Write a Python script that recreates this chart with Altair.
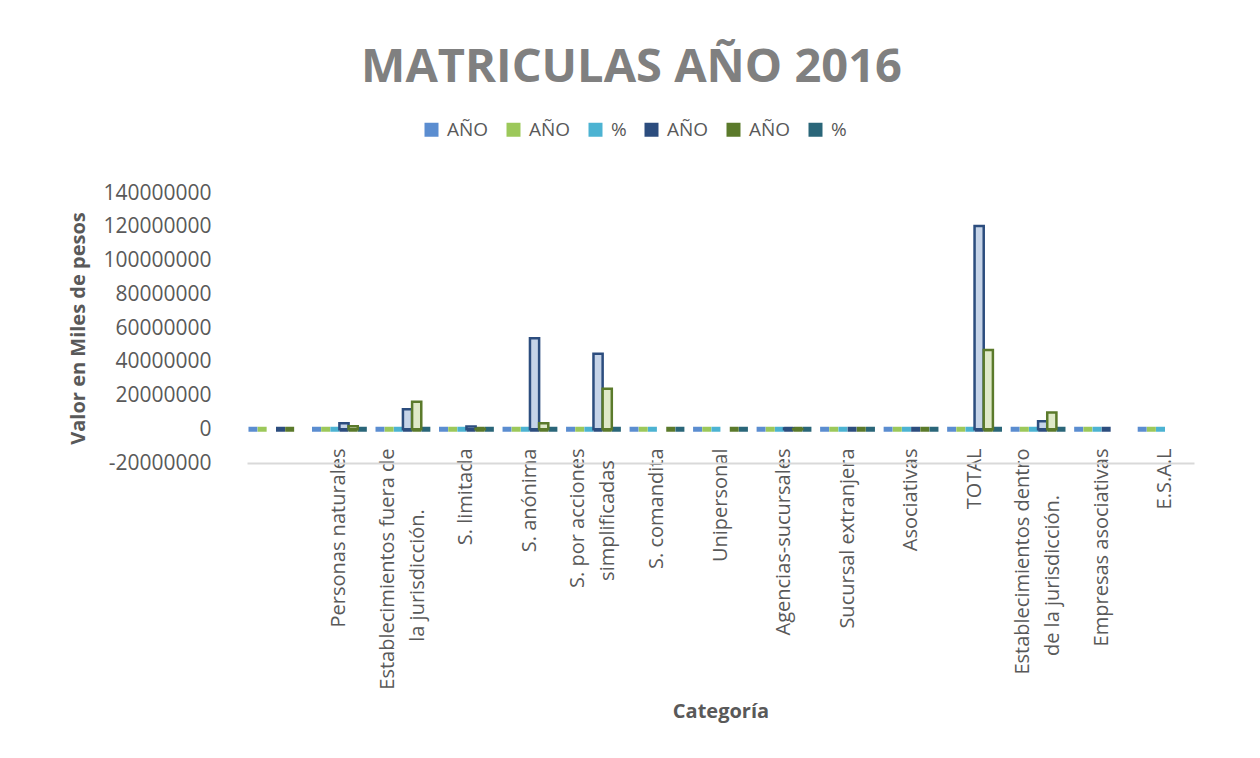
import altair as alt
import pandas as pd

categories = [
    " ",
    "Personas naturales",
    "Establecimientos fuera de\nla jurisdicción.",
    "S. limitada",
    "S. anónima",
    "S. por acciones\nsimplificadas",
    "S. comandita",
    "Unipersonal",
    "Agencias-sucursales",
    "Sucursal extranjera",
    "Asociativas",
    "TOTAL",
    "Establecimientos dentro\nde la jurisdicción.",
    "Empresas asociativas",
    "E.S.A.L",
]

series_keys = ["s1", "s2", "s3", "s4", "s5", "s6"]
series_labels = ["AÑO", "AÑO", "%", "AÑO", "AÑO", "%"]
series_colors = ["#5b8dd0", "#9cc85a", "#4cb3d2", "#2c4d7e", "#5b7a2b", "#2a6679"]
bar_fills = ["#bccde6", "#dbe9c4", "#bde3ee", "#c6d4e8", "#dfe9c8", "#b9d3da"]

s1_values = [0, 0, 0, 0, 0, 0, 0, 0, 0, 0, 0, 0, 0, 0, 0]
s2_values = [0, 0, 0, 0, 0, 0, 0, 0, 0, 0, 0, 0, 0, 0, 0]
s3_values = [None, 0, 0, 0, 0, 0, 0, 0, 0, 0, 0, 0, 0, 0, 0]
s4_values = [0, 3500000, 11800000, 1700000, 54000000, 44700000, None, None,
             500000, 0, 0, 120500000, 4700000, 0, None]
s5_values = [0, 1800000, 16300000, 300000, 3500000, 24000000, 0, 0,
             200000, 0, 0, 47000000, 10000000, None, None]
s6_values = [None, 0, 0, 0, 0, 0, 0, 0, 0, 0, 0, 0, 0, None, None]

y_ticks = [-20000000, 0, 20000000, 40000000, 60000000, 80000000,
           100000000, 120000000, 140000000]

all_series = [s1_values, s2_values, s3_values, s4_values, s5_values, s6_values]
rows = []
for key, vals in zip(series_keys, all_series):
    for cat, v in zip(categories, vals):
        if v is not None:
            rows.append({"category": cat, "series": key, "value": v})
df = pd.DataFrame(rows)

FONT = "Open Sans"
GREY = "#595959"

legend_label_expr = "[{}][indexof([{}], datum.label)]".format(
    ",".join("'" + s + "'" for s in series_labels),
    ",".join("'" + s + "'" for s in series_keys),
)

x_scale = alt.Scale(paddingInner=0.134, paddingOuter=0.022)
y_scale = alt.Scale(domain=[-20000000, 140000000], nice=False, zero=False)

y_axis = alt.Axis(
    values=y_ticks,
    labelExpr="toString(datum.value)",
    grid=False,
    domain=False,
    ticks=False,
    labelFont=FONT,
    labelFontSize=21,
    labelColor=GREY,
    labelPadding=36,
    title="Valor en Miles de pesos",
    titleFont=FONT,
    titleFontSize=20,
    titleFontWeight="bold",
    titleColor=GREY,
    titlePadding=14,
)

x_main = alt.X(
    "category:N",
    sort=categories,
    scale=x_scale,
    axis=alt.Axis(
        orient="bottom",
        labelExpr="split(datum.value, '\\n')[0]",
        labelAngle=-90,
        labelAlign="right",
        labelBaseline="middle",
        labelPadding=-15,
        labelOffset=alt.ConditionalAxisNumber(
            condition={"test": "indexof(datum.value, '\\n') >= 0", "value": -15},
            value=0,
        ),
        labelLimit=500,
        labelFont=FONT,
        labelFontSize=20,
        labelColor=GREY,
        ticks=False,
        domainColor="#d9d9d9",
        domainWidth=2,
        title="Categoría",
        titleFont=FONT,
        titleFontSize=20,
        titleFontWeight="bold",
        titleColor=GREY,
        titleBaseline="alphabetic",
        titleY=254,
    ),
)

x_second = alt.X(
    "category:N",
    sort=categories,
    scale=x_scale,
    axis=alt.Axis(
        orient="bottom",
        labelExpr="length(split(datum.value, '\\n')) > 1 ? split(datum.value, '\\n')[1] : ''",
        labelAngle=-90,
        labelAlign="center",
        labelBaseline="middle",
        labelPadding=alt.ConditionalAxisNumber(
            condition={"test": "indexof(datum.value, 'simplificadas') >= 0", "value": 57},
            value=112,
        ),
        labelOffset=15,
        labelLimit=500,
        labelFont=FONT,
        labelFontSize=20,
        labelColor=GREY,
        ticks=False,
        domain=False,
        title=None,
    ),
)

x_off = alt.XOffset("series:N", sort=series_keys,
                    scale=alt.Scale(paddingInner=0, paddingOuter=0))

slabs = alt.Chart(df).transform_calculate(zero="0").mark_tick(
    thickness=5, size=9, opacity=1
).encode(
    x=x_main,
    xOffset=x_off,
    y=alt.Y("zero:Q", scale=y_scale, axis=y_axis),
    color=alt.Color(
        "series:N",
        scale=alt.Scale(domain=series_keys, range=series_colors),
        legend=alt.Legend(
            orient="none",
            legendX=175,
            legendY=-73,
            direction="horizontal",
            title=None,
            symbolType="square",
            symbolSize=196,
            symbolStrokeWidth=0,
            symbolOpacity=1,
            labelFont=FONT,
            labelFontSize=19,
            labelColor=GREY,
            labelOffset=6,
            columnPadding=15,
            padding=0,
            labelExpr=legend_label_expr,
        ),
    ),
)

bars = alt.Chart(df).transform_filter("datum.value > 0").mark_bar(strokeWidth=2.5).encode(
    x=x_second,
    xOffset=x_off,
    y=alt.Y("value:Q", scale=y_scale, axis=y_axis),
    y2=alt.datum(0),
    fill=alt.Fill("series:N", scale=alt.Scale(domain=series_keys, range=bar_fills), legend=None),
    stroke=alt.Stroke("series:N", scale=alt.Scale(domain=series_keys, range=series_colors), legend=None),
)

chart = alt.layer(slabs, bars).resolve_axis(x="independent").properties(
    width=947,
    height=270,
    background="white",
    autosize=alt.AutoSizeParams(type="none"),
    padding={"left": 239, "top": 185, "right": 58, "bottom": 282},
    title=alt.TitleParams(
        text="MATRICULAS AÑO 2016",
        font=FONT,
        fontSize=47,
        fontWeight="bold",
        color="#808080",
        anchor="middle",
        frame="group",
        dx=-89,
        offset=28,
    ),
).configure_view(strokeWidth=0, stroke="transparent")

chart.save("out.html", embed_options={"renderer": "svg", "actions": False})
